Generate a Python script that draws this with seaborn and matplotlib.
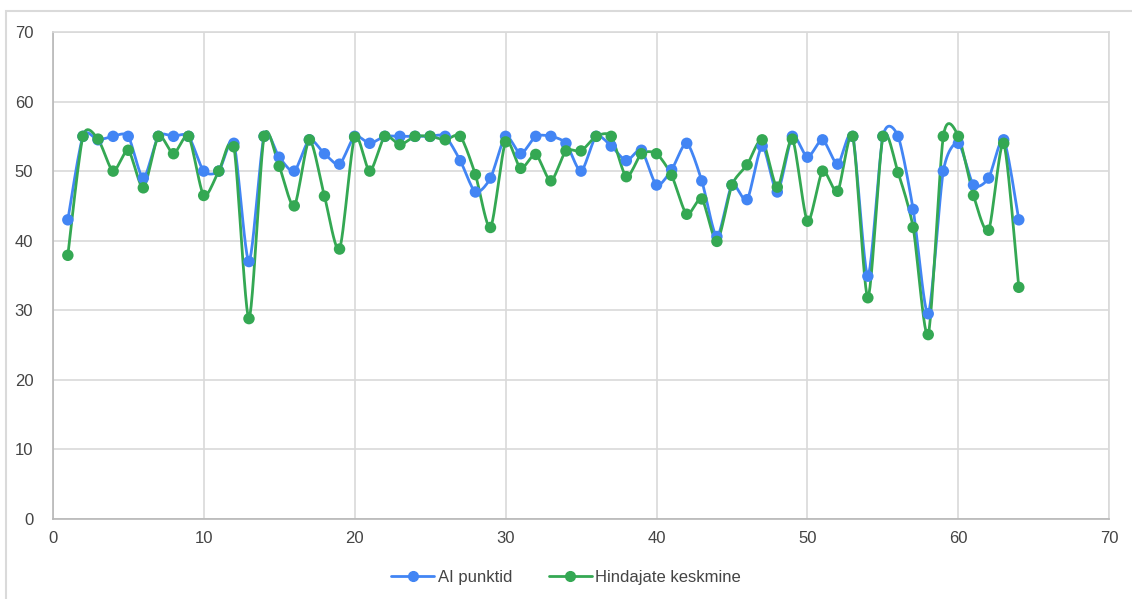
import numpy as np
import pandas as pd
import seaborn as sns
import matplotlib.pyplot as plt
from matplotlib.lines import Line2D
from matplotlib.patches import Rectangle

item = list(range(1, 65))
ai_points = [
    43.0, 55.0, 54.5, 55.0, 55.0, 49.0, 55.0, 55.0, 55.0, 50.0,
    50.0, 54.0, 37.0, 55.0, 52.0, 50.0, 54.5, 52.5, 51.0, 55.0,
    54.0, 55.0, 55.0, 55.0, 55.0, 55.0, 51.5, 47.0, 49.0, 55.0,
    52.5, 55.0, 55.0, 54.0, 50.0, 55.0, 53.6, 51.5, 53.0, 48.0,
    50.2, 54.0, 48.6, 40.6, 48.0, 45.9, 53.6, 47.0, 55.0, 52.0,
    54.5, 51.0, 55.0, 34.9, 55.0, 55.0, 44.5, 29.5, 50.0, 54.0,
    48.0, 49.0, 54.5, 43.0,
]
rater_mean = [
    37.9, 55.0, 54.6, 50.0, 53.0, 47.6, 55.0, 52.5, 55.0, 46.5,
    50.0, 53.5, 28.8, 55.0, 50.7, 45.0, 54.5, 46.4, 38.8, 54.9,
    50.0, 55.0, 53.8, 55.0, 55.0, 54.5, 55.0, 49.5, 41.9, 54.2,
    50.4, 52.4, 48.6, 52.9, 52.9, 55.0, 55.0, 49.2, 52.5, 52.5,
    49.4, 43.8, 46.0, 39.9, 48.0, 50.9, 54.5, 47.7, 54.6, 42.8,
    50.0, 47.1, 55.0, 31.8, 55.0, 49.8, 41.9, 26.5, 55.0, 55.0,
    46.5, 41.5, 54.0, 33.3,
]
series_names = ["AI punktid", "Hindajate keskmine"]
colors = ["#4285F4", "#34A853"]


def smooth(x, y, steps=12, tension=0.75):
    # cardinal curve through the points, like the spreadsheet "smooth" option
    x = np.asarray(x, float)
    y = np.asarray(y, float)
    px = np.concatenate([[x[0]], x, [x[-1]]])
    py = np.concatenate([[y[0]], y, [y[-1]]])
    t = np.linspace(0, 1, steps, endpoint=False)
    h00 = 2 * t**3 - 3 * t**2 + 1
    h10 = t**3 - 2 * t**2 + t
    h01 = -2 * t**3 + 3 * t**2
    h11 = t**3 - t**2
    xs, ys = [], []
    for i in range(1, len(px) - 2):
        for p, out in ((px, xs), (py, ys)):
            p0, p1, p2, p3 = p[i - 1], p[i], p[i + 1], p[i + 2]
            m1 = (p2 - p0) / 2 * tension
            m2 = (p3 - p1) / 2 * tension
            out.extend(h00 * p1 + h10 * m1 + h01 * p2 + h11 * m2)
    xs.append(x[-1])
    ys.append(y[-1])
    return np.array(xs), np.array(ys)


sns.set_style("white")
plt.rcParams["font.family"] = ["Liberation Sans", "DejaVu Sans"]

fig = plt.figure(figsize=(11.32, 5.99), dpi=100)
ax = fig.add_axes([0.0466, 0.1336, 0.9334, 0.8130])

fig.patches.append(Rectangle((6 / 1132, -0.1), 1.2, 1 - 11 / 599 + 0.1,
                             transform=fig.transFigure, fill=False,
                             edgecolor="#dadada", linewidth=1.5))

for name, vals, col in zip(series_names, [ai_points, rater_mean], colors):
    sx, sy = smooth(item, vals)
    curve = pd.DataFrame({"x": sx, "y": sy})
    sns.lineplot(data=curve, x="x", y="y", sort=False, color=col,
                 linewidth=2.0, ax=ax, legend=False, zorder=3)
    pts = pd.DataFrame({"x": item, "y": vals})
    sns.scatterplot(data=pts, x="x", y="y", color=col, s=68,
                    edgecolor="none", ax=ax, legend=False, zorder=4)

ax.set_xlim(0, 70)
ax.set_ylim(0, 70)
ax.set_xticks(range(0, 71, 10))
ax.set_yticks(range(0, 71, 10))
ax.grid(True, color="#d9d9d9", linewidth=1.2)
ax.set_axisbelow(True)
for side in ["top", "right"]:
    ax.spines[side].set_color("#d9d9d9")
    ax.spines[side].set_linewidth(1.2)
for side in ["left", "bottom"]:
    ax.spines[side].set_color("#b7b7b7")
    ax.spines[side].set_linewidth(1.2)
ax.tick_params(axis="both", length=0, labelsize=12, labelcolor="#444444")
ax.tick_params(axis="x", pad=9)
ax.tick_params(axis="y", pad=14)
ax.set_xlabel("")
ax.set_ylabel("")

handles = [Line2D([0], [0], color=c, linewidth=2, marker="o", markersize=7)
           for c in colors]
fig.legend(handles, series_names, loc="center", bbox_to_anchor=(0.5, 0.036),
           ncol=2, frameon=False, fontsize=12, handlelength=2.6,
           handletextpad=0.2, columnspacing=2.2, labelcolor="#444444")

fig.savefig("out.png", dpi=100, facecolor="white")
